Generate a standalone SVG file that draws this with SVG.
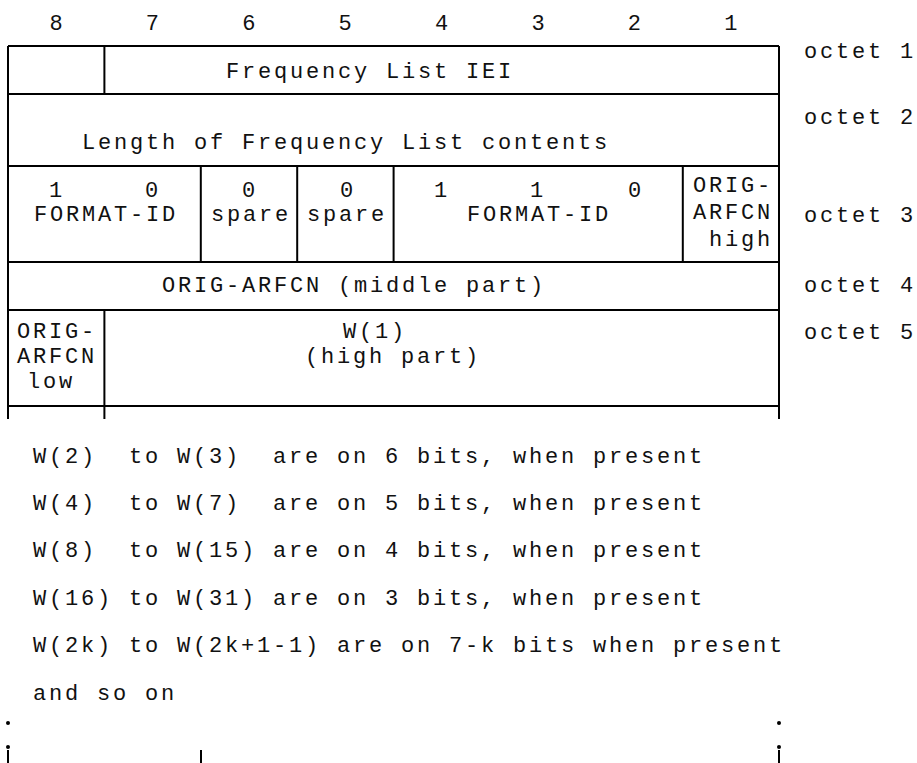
<svg xmlns="http://www.w3.org/2000/svg" width="917" height="763" viewBox="0 0 917 763">
<style>
text{font-family:"Liberation Mono","Courier New",monospace;font-size:22px;letter-spacing:2.8px;fill:#111;white-space:pre}
.m{text-anchor:middle}
.e{text-anchor:end}
.ln{stroke:#000;stroke-width:2;fill:none}
</style>
<rect width="917" height="763" fill="#fff"/>
<g id="bit-numbers">
<text x="57.4" y="30" class="m">8</text>
<text x="153.8" y="30" class="m">7</text>
<text x="250.2" y="30" class="m">6</text>
<text x="346.6" y="30" class="m">5</text>
<text x="443" y="30" class="m">4</text>
<text x="539.4" y="30" class="m">3</text>
<text x="635.8" y="30" class="m">2</text>
<text x="732.2" y="30" class="m">1</text>
</g>
<g id="connectors" class="ln">
<path d="M8 46H779M8 94H779M8 166H779M8 262H779M8 310H779M8 406H779"/>
<path d="M8 46V419M779 46V419"/>
<path d="M104.4 46V94M104.4 310V419"/>
<path d="M200.8 166V262M297.2 166V262M393.6 166V262M682.8 166V262"/>
<path d="M8 750V763M779 750V763M201 750V763"/>
</g>
<g id="dots" fill="#000">
<circle cx="8" cy="723" r="2"/>
<circle cx="8" cy="747" r="2"/>
<circle cx="779" cy="723" r="2"/>
<circle cx="779" cy="747" r="2"/>
</g>
<g id="octet1"><text x="226" y="78">Frequency List IEI</text></g>
<g id="octet2"><text x="82" y="149">Length of Frequency List contents</text></g>
<g id="format-id-high">
<text x="57" y="197" class="m">1</text>
<text x="153" y="197" class="m">0</text>
<text x="34" y="221">FORMAT-ID</text>
</g>
<g id="spare6">
<text x="250" y="197" class="m">0</text>
<text x="211" y="221">spare</text>
</g>
<g id="spare5">
<text x="348" y="197" class="m">0</text>
<text x="307" y="221">spare</text>
</g>
<g id="format-id-low">
<text x="442" y="197" class="m">1</text>
<text x="538" y="197" class="m">1</text>
<text x="636" y="197" class="m">0</text>
<text x="467" y="221">FORMAT-ID</text>
</g>
<g id="orig-arfcn-high">
<text x="773" y="192" class="e">ORIG-</text>
<text x="773" y="219" class="e">ARFCN</text>
<text x="773" y="246" class="e">high</text>
</g>
<g id="octet4"><text x="162" y="292">ORIG-ARFCN (middle part)</text></g>
<g id="orig-arfcn-low">
<text x="17" y="338">ORIG-</text>
<text x="17" y="363">ARFCN</text>
<text x="27" y="388">low</text>
</g>
<g id="w1">
<text x="343" y="338">W(1)</text>
<text x="305" y="363">(high part)</text>
</g>
<g id="octet-labels">
<text x="804" y="58">octet 1</text>
<text x="804" y="124">octet 2</text>
<text x="804" y="222">octet 3</text>
<text x="804" y="292">octet 4</text>
<text x="804" y="339">octet 5</text>
</g>
<g id="notes">
<text x="33" y="463">W(2)  to W(3)  are on 6 bits, when present</text>
<text x="33" y="510">W(4)  to W(7)  are on 5 bits, when present</text>
<text x="33" y="557">W(8)  to W(15) are on 4 bits, when present</text>
<text x="33" y="605">W(16) to W(31) are on 3 bits, when present</text>
<text x="33" y="652">W(2k) to W(2k+1-1) are on 7-k bits when present</text>
<text x="33" y="700">and so on</text>
</g>
</svg>
